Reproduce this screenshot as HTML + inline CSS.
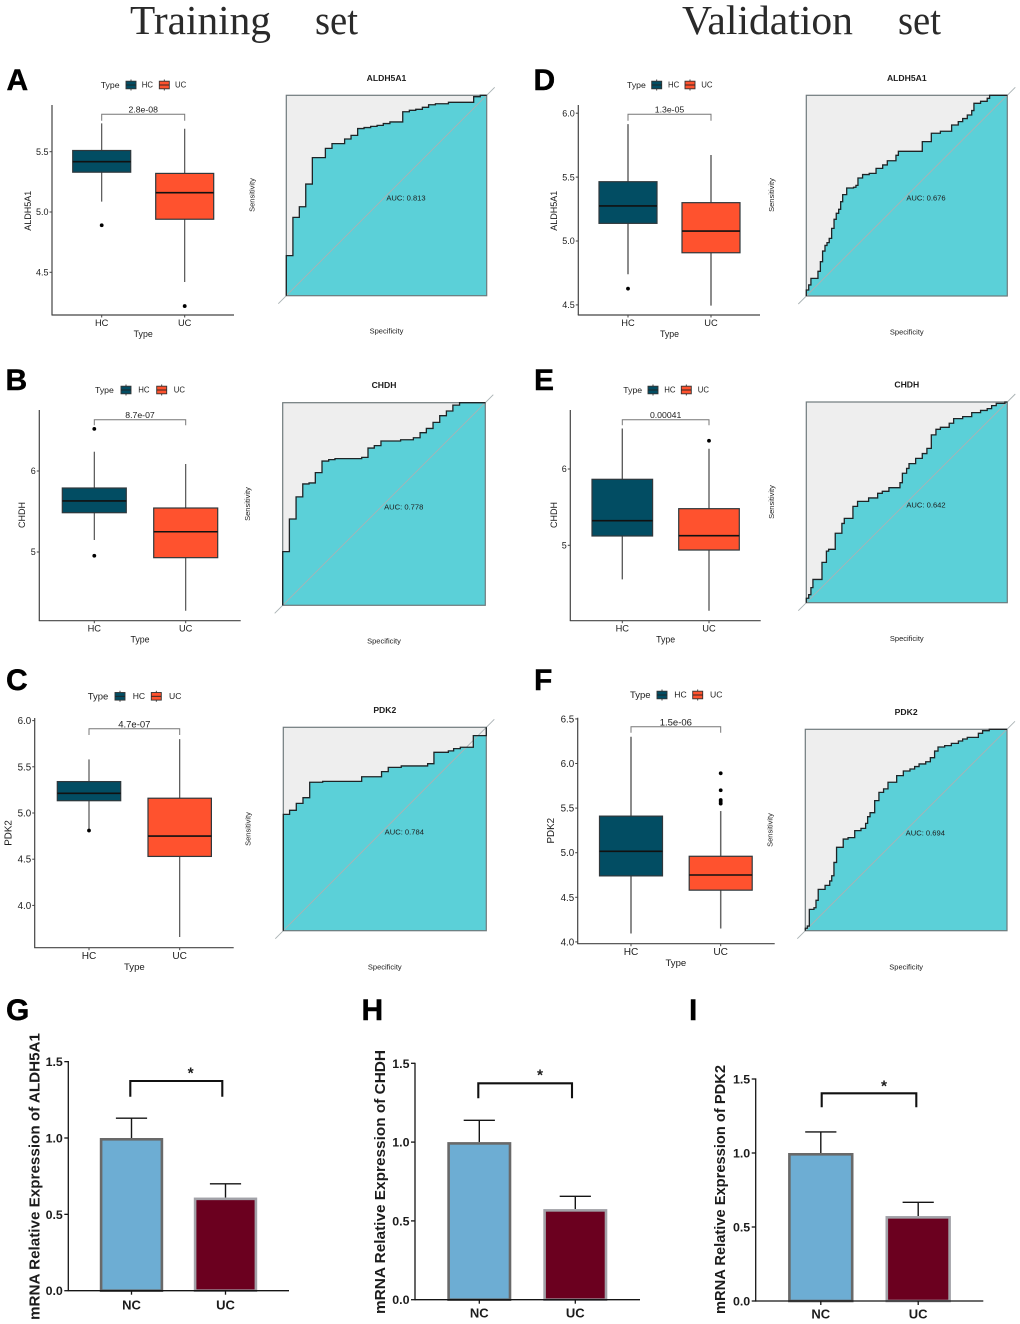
<!DOCTYPE html>
<html lang="en">
<head>
<meta charset="utf-8">
<title>Training and validation set expression figure</title>
<style>
html,body{margin:0;padding:0;background:#fff;width:1020px;height:1324px;overflow:hidden}
svg{display:block}
text{font-family:"Liberation Sans",Arial,sans-serif;fill:#1c1c1c}
.heading{font-family:"Liberation Serif","Times New Roman",serif;font-size:41.5px;fill:#2a2a2a}
.letter{font-size:30px;font-weight:bold;fill:#000;stroke:#000;stroke-width:.4px}
.soft{filter:blur(0.3px)}
</style>
</head>
<body>
<svg id="figure" xmlns="http://www.w3.org/2000/svg" width="1020" height="1324" viewBox="0 0 1020 1324">
<rect width="1020" height="1324" fill="#fff"/>
<g>
<text class="heading" x="130" y="34" textLength="141" lengthAdjust="spacingAndGlyphs">Training</text>
<text class="heading" x="315" y="34" textLength="43" lengthAdjust="spacingAndGlyphs">set</text>
<text class="heading" x="682" y="34" textLength="171" lengthAdjust="spacingAndGlyphs">Validation</text>
<text class="heading" x="898" y="34" textLength="43" lengthAdjust="spacingAndGlyphs">set</text>
</g>
<g>
<text class="letter" x="6.5" y="90">A</text>
<text class="letter" x="533.5" y="90">D</text>
<text class="letter" x="5.5" y="390">B</text>
<text class="letter" x="534" y="390">E</text>
<text class="letter" x="6" y="690">C</text>
<text class="letter" x="534" y="690">F</text>
<text class="letter" x="6" y="1020">G</text>
<text class="letter" x="361.5" y="1020">H</text>
<text class="letter" x="689" y="1020">I</text>
</g>
</svg>
<script>
// ---------- Shared categories ----------
const boxCategories = ['HC', 'UC'];
const barCategories = ['NC', 'UC'];

// ---------- Box plot data: [whisker low, q1, median, q3, whisker high] ----------
const boxA_HC = [5.086, 5.33, 5.417, 5.51, 5.735];
const boxA_UC = [4.42, 4.94, 5.16, 5.32, 5.69];
const outliersA_HC = [4.89];
const outliersA_UC = [4.22];
const ticksA = [4.5, 5.0, 5.5];
const pLabelA = '2.8e-08';

const boxB_HC = [5.148, 5.485, 5.63, 5.79, 6.238];
const boxB_UC = [4.275, 4.93, 5.25, 5.543, 6.086];
const outliersB_HC = [6.52, 4.954];
const outliersB_UC = [];
const ticksB = [5, 6];
const pLabelB = '8.7e-07';

const boxC_HC = [4.816, 5.133, 5.213, 5.34, 5.58];
const boxC_UC = [3.658, 4.53, 4.75, 5.16, 5.80];
const outliersC_HC = [4.81];
const outliersC_UC = [];
const ticksC = [4.0, 4.5, 5.0, 5.5, 6.0];
const pLabelC = '4.7e-07';

const boxD_HC = [4.74, 5.138, 5.274, 5.464, 5.915];
const boxD_UC = [4.494, 4.908, 5.078, 5.30, 5.673];
const outliersD_HC = [4.627];
const outliersD_UC = [];
const ticksD = [4.5, 5.0, 5.5, 6.0];
const pLabelD = '1.3e-05';

const boxE_HC = [4.554, 5.122, 5.322, 5.865, 6.53];
const boxE_UC = [4.143, 4.938, 5.126, 5.48, 6.266];
const outliersE_HC = [];
const outliersE_UC = [6.37];
const ticksE = [5, 6];
const pLabelE = '0.00041';

const boxF_HC = [4.094, 4.74, 5.015, 5.41, 6.30];
const boxF_UC = [4.15, 4.58, 4.75, 4.96, 5.467];
const outliersF_HC = [];
const outliersF_UC = [5.89, 5.70, 5.59, 5.57, 5.55];
const ticksF = [4.0, 4.5, 5.0, 5.5, 6.0, 6.5];
const pLabelF = '1.5e-06';

// ---------- ROC data: step curves (1 - specificity, sensitivity) ----------
const rocFprA = [0,.033,.065,.097,.130,.195,.228,.291,.323,.356,.388,.421,.453,.484,.517,.581,.614,.646,.679,.710,.744,.809,.935,.968];
const rocTprA = [.200,.391,.444,.557,.689,.735,.759,.782,.800,.834,.839,.845,.850,.859,.867,.918,.925,.930,.940,.953,.958,.965,.993,1];
const rocAucA = 'AUC: 0.813';

const rocFprB = [0,.033,.066,.099,.130,.161,.194,.227,.258,.390,.421,.452,.485,.582,.645,.678,.709,.742,.775,.808,.840,.873];
const rocTprB = [.265,.426,.535,.599,.604,.655,.712,.719,.724,.730,.776,.788,.811,.817,.827,.852,.873,.903,.936,.959,.988,1];
const rocAucB = 'AUC: 0.778';

const rocFprC = [0,.031,.064,.097,.130,.194,.386,.484,.517,.581,.711,.742,.813,.839,.872,.936,1];
const rocTprC = [.572,.592,.626,.654,.730,.734,.757,.782,.803,.810,.821,.877,.884,.895,.902,.959,1];
const rocAucC = 'AUC: 0.784';

const rocFprD = [0,.012,.023,.058,.070,.081,.093,.103,.114,.126,.138,.149,.161,.171,.181,.201,.235,.247,.257,.280,.313,.347,.380,.403,.446,.458,.577,.622,.667,.723,.756,.778,.801,.823,.834,.867,.900,.912];
const rocTprD = [.030,.055,.088,.123,.171,.224,.252,.266,.287,.337,.382,.412,.432,.470,.505,.538,.542,.551,.588,.605,.611,.636,.653,.674,.701,.721,.769,.811,.821,.852,.869,.884,.902,.924,.960,.970,.985,1];
const rocAucD = 'AUC: 0.676';

const rocFprE = [0,.012,.023,.033,.078,.100,.111,.144,.177,.189,.232,.255,.310,.355,.378,.411,.466,.478,.499,.511,.544,.577,.600,.622,.645,.667,.711,.733,.778,.823,.867,.900,.922,.945,.988];
const rocTprE = [.022,.040,.075,.116,.201,.257,.266,.346,.395,.420,.480,.505,.522,.545,.555,.573,.598,.645,.669,.693,.719,.743,.769,.836,.864,.874,.894,.917,.927,.947,.958,.967,.982,.993,1];
const rocAucE = 'AUC: 0.642';

const rocFprF = [0,.010,.020,.043,.053,.064,.098,.121,.131,.142,.155,.188,.212,.245,.276,.299,.309,.321,.344,.365,.388,.410,.453,.486,.519,.542,.564,.597,.620,.641,.658,.691,.724,.759,.780,.803,.858,.879,.912];
const rocTprF = [.012,.023,.106,.114,.151,.205,.225,.247,.273,.339,.414,.455,.462,.497,.508,.533,.566,.586,.646,.687,.704,.737,.770,.793,.803,.815,.828,.839,.859,.892,.912,.919,.930,.942,.952,.960,.980,.993,1];
const rocAucF = 'AUC: 0.694';

// ---------- Bar chart data ----------
const barTicks = [0.0, 0.5, 1.0, 1.5];
const barMeansG = [1.0, 0.61];
const barErrorsG = [0.13, 0.09];
const barMeansH = [1.0, 0.575];
const barErrorsH = [0.138, 0.081];
const barMeansI = [1.0, 0.574];
const barErrorsI = [0.142, 0.093];

// ---------- Helpers ----------
const SVGNS = 'http://www.w3.org/2000/svg';
const svg = document.getElementById('figure');
function add(parent, tag, attrs, content) {
  const node = document.createElementNS(SVGNS, tag);
  for (const k in attrs) node.setAttribute(k, attrs[k]);
  if (content !== undefined) node.textContent = content;
  parent.appendChild(node);
  return node;
}
function label(parent, x, y, str, size, extra) {
  // y is the visual centre of the text
  return add(parent, 'text', Object.assign({
    x: x, y: y + size * 0.36, 'font-size': size, 'text-anchor': 'middle'
  }, extra || {}), str);
}
function vLabel(parent, x, y, str, size, extra) {
  return add(parent, 'text', Object.assign({
    x: 0, y: 0, 'font-size': size, 'text-anchor': 'middle',
    transform: 'translate(' + (x + size * 0.36) + ' ' + y + ') rotate(-90)'
  }, extra || {}), str);
}

// ---------- Box plot ----------
function drawBoxPanel(c) {
  const panel = add(svg, 'g', { class: 'soft' });
  
  
  const yAt = v => c.y0 - (v - c.v0) * c.k;
  const colors = ['#024d63', '#ff522e'];
  const xs = [c.xHC, c.xUC];
  const fs = c.fs;

  // legend
  const legend = add(panel, 'g', {});
  
  
  const legendTitle = add(legend, 'text', { x: c.legX[0], y: c.legY + 3, 'font-size': fs - 0.3 }, 'Type');
  
  
  boxCategories.forEach((name, i) => {
    const kx = c.legX[1 + i * 2];
    const entry = add(legend, 'g', {});
    
    
    add(entry, 'line', { x1: kx + 5, x2: kx + 5, y1: c.legY - 5.5, y2: c.legY + 5.5, stroke: '#333', 'stroke-width': 0.9 });
    add(entry, 'rect', { x: kx, y: c.legY - 3.8, width: 10, height: 7.6, fill: colors[i], stroke: '#333', 'stroke-width': 0.9 });
    add(entry, 'line', { x1: kx, x2: kx + 10, y1: c.legY, y2: c.legY, stroke: '#222', 'stroke-width': 0.9 });
    add(entry, 'text', { x: c.legX[2 + i * 2], y: c.legY + 2.7, 'font-size': fs - 1.2, fill: '#333' }, name);
  });

  // y axis and ticks
  const yAxis = add(panel, 'line', { x1: c.x0, x2: c.x0, y1: c.top, y2: c.bottom, stroke: '#444', 'stroke-width': 1.2 });
  
  
  const xAxis = add(panel, 'line', { x1: c.x0 - 0.5, x2: c.right, y1: c.bottom, y2: c.bottom, stroke: '#444', 'stroke-width': 1.2 });
  
  
  c.ticks.forEach(t => {
    const y = yAt(t);
    add(panel, 'line', { x1: c.x0 - 2.5, x2: c.x0, y1: y, y2: y, stroke: '#444', 'stroke-width': 1 });
    const tl = label(panel, c.x0 - 3.5, y, c.tickFmt ? t.toFixed(c.tickFmt) : String(t), fs, { 'text-anchor': 'end' });
    
    
  });
  const yTitle = vLabel(panel, c.yTitleX, c.yTitleY, c.gene, fs);
  
  
  const mid = (c.xHC + c.xUC) / 2;
  const xTitle = label(panel, mid, c.bottom + 18.6, 'Type', fs - 0.2);
  
  

  // boxes
  boxCategories.forEach((name, i) => {
    const x = xs[i], s = c.series[i];
    const box = add(panel, 'g', {});
    
    
    add(box, 'line', { x1: x, x2: x, y1: yAt(s[4]), y2: yAt(s[0]), stroke: c.wColor, 'stroke-width': c.wWidth });
    add(box, 'rect', { x: x - c.half, y: yAt(s[3]), width: c.half * 2, height: yAt(s[1]) - yAt(s[3]), fill: colors[i], stroke: '#30383c', 'stroke-width': 1.2 });
    add(box, 'line', { x1: x - c.half, x2: x + c.half, y1: yAt(s[2]), y2: yAt(s[2]), stroke: '#111', 'stroke-width': 1.6 });
    c.outliers[i].forEach(v => {
      const dot = add(box, 'circle', { cx: x, cy: yAt(v), r: 1.9, fill: '#000' });
      
      
    });
    add(panel, 'line', { x1: x, x2: x, y1: c.bottom, y2: c.bottom + 2.5, stroke: '#444', 'stroke-width': 1 });
    const cat = label(panel, x, c.bottom + 7.6, name, fs + 0.3);
    
    
  });

  // significance bracket
  const br = add(panel, 'polyline', {
    points: [c.xHC, c.brTip, c.xHC, c.brY, c.xUC, c.brY, c.xUC, c.brTip].join(' '),
    fill: 'none', stroke: '#777', 'stroke-width': 1
  });
  
  
  const pv = label(panel, mid, c.brY - 4.7, c.p, fs - 0.3);
  
  
}

// ---------- ROC ----------
function drawRoc(c) {
  const panel = add(svg, 'g', { class: 'soft' });
  
  
  const w = c.x1 - c.x0, h = c.y1 - c.y0;
  const xAt = v => c.x0 + v * w;
  const yAt = v => c.y1 - v * h;
  let pts = [[xAt(0), yAt(0)]];
  c.fpr.forEach((f, i) => {
    pts.push([xAt(f), i === 0 ? yAt(0) : yAt(c.tpr[i - 1])]);
    pts.push([xAt(f), yAt(c.tpr[i])]);
  });
  pts.push([xAt(1), yAt(1)]);
  const str = pts.map(p => p[0].toFixed(2) + ',' + p[1].toFixed(2)).join(' ');
  const upper = add(panel, 'rect', { x: c.x0, y: c.y0, width: w, height: h, fill: '#eeeeee' });
  
  
  const area = add(panel, 'polygon', { points: str + ' ' + xAt(1) + ',' + yAt(0), fill: '#5bd0d8' });
  
  
  const diag = add(panel, 'line', { x1: c.x0 - 8, y1: c.y1 + 8, x2: c.x1 + 8, y2: c.y0 - 8, stroke: '#aab2b4', 'stroke-width': 0.9 });
  
  
  const frame = add(panel, 'rect', { x: c.x0, y: c.y0, width: w, height: h, fill: 'none', stroke: '#6f7a7c', 'stroke-width': 1.2 });
  
  
  const curve = add(panel, 'polyline', { points: str, fill: 'none', stroke: '#1e2426', 'stroke-width': 1.3 });
  
  
  const cx = (c.x0 + c.x1) / 2;
  const title = label(panel, cx, c.titleY, c.gene, 8.6, { 'font-weight': 'bold' });
  
  
  const auc = label(panel, c.aucX, c.aucY, c.auc, 7.6);
  
  
  const sens = vLabel(panel, c.sensX, c.sensY, 'Sensitivity', 7.5, { fill: '#333' });
  
  
  const spec = label(panel, cx, c.specY, 'Specificity', 7.5, { fill: '#333' });
  
  
}

// ---------- Bar chart ----------
function drawBars(c) {
  const panel = add(svg, 'g', {});
  
  
  const yAt = v => c.zeroY - v * c.k;
  const fills = ['#6dadd3', '#6b001f'];
  const strokes = ['#696969', '#a2a2a8'];
  const topY = yAt(barTicks[barTicks.length - 1]);

  barCategories.forEach((name, i) => {
    const cx = c.centers[i], m = c.means[i], e = c.errors[i];
    const errLine = add(panel, 'path', {
      d: 'M' + cx + ' ' + yAt(m) + 'V' + yAt(m + e) + 'M' + (cx - 15.6) + ' ' + yAt(m + e) + 'H' + (cx + 15.6),
      fill: 'none', stroke: '#151515', 'stroke-width': 1.4
    });
    
    
    const bar = add(panel, 'rect', {
      x: cx - c.half + 1.3, y: yAt(m) + 1.3, width: c.half * 2 - 2.6, height: c.zeroY - yAt(m) - 1.3,
      fill: fills[i], stroke: strokes[i], 'stroke-width': 2.6
    });
    
    
    add(panel, 'line', { x1: cx, x2: cx, y1: c.zeroY, y2: c.zeroY + 4, stroke: '#151515', 'stroke-width': 1.3 });
    const cat = label(panel, cx, c.labelY, name, 13, { 'font-weight': 'bold' });
    
    
  });

  const yAxis = add(panel, 'line', { x1: c.x0, x2: c.x0, y1: topY - 0.6, y2: c.zeroY + 0.6, stroke: '#151515', 'stroke-width': 1.3 });
  
  
  const xAxis = add(panel, 'line', { x1: c.x0, x2: c.right, y1: c.zeroY, y2: c.zeroY, stroke: '#151515', 'stroke-width': 1.3 });
  
  
  barTicks.forEach(t => {
    const y = yAt(t);
    add(panel, 'line', { x1: c.x0 - 4, x2: c.x0, y1: y, y2: y, stroke: '#151515', 'stroke-width': 1.3 });
    const tl = label(panel, c.x0 - 5.5, y, t.toFixed(1), 12.4, { 'text-anchor': 'end', 'font-weight': 'bold' });
    
    
  });
  const yTitle = vLabel(panel, c.titleX, c.titleY, c.title, 15.2, { 'font-weight': 'bold', textLength: c.titleLen, lengthAdjust: 'spacingAndGlyphs' });
  
  

  const br = add(panel, 'polyline', {
    points: [c.brX[0], c.brTip, c.brX[0], c.brY, c.brX[1], c.brY, c.brX[1], c.brTip].join(' '),
    fill: 'none', stroke: '#111', 'stroke-width': 2.1
  });
  
  
  const star = label(panel, c.starX, c.starY + 3, '*', 15.5, { 'font-weight': 'bold' });
  
  
}

// ---------- Panel layouts ----------
drawBoxPanel({ id: 'a', gene: 'ALDH5A1', p: pLabelA, ticks: ticksA, tickFmt: 1, series: [boxA_HC, boxA_UC], outliers: [outliersA_HC, outliersA_UC],
  x0: 52, top: 105, bottom: 315, right: 234, v0: 5, y0: 212, k: 120.6, xHC: 101.7, xUC: 184.7, half: 29, fs: 9, wColor: '#444', wWidth: 1.1,
  brY: 114.3, brTip: 120.7, yTitleX: 28, yTitleY: 210.7, legY: 85, legX: [100.7, 126, 141.7, 159.3, 175] });
drawBoxPanel({ id: 'd', gene: 'ALDH5A1', p: pLabelD, ticks: ticksD, tickFmt: 1, series: [boxD_HC, boxD_UC], outliers: [outliersD_HC, outliersD_UC],
  x0: 578.3, top: 105, bottom: 315, right: 760, v0: 5, y0: 241, k: 127.8, xHC: 628, xUC: 711, half: 29, fs: 9, wColor: '#666', wWidth: 1.5,
  brY: 114.3, brTip: 120.7, yTitleX: 554, yTitleY: 210.7, legY: 85, legX: [627, 651.7, 668, 685, 701.3] });
drawBoxPanel({ id: 'b', gene: 'CHDH', p: pLabelB, ticks: ticksB, tickFmt: 0, series: [boxB_HC, boxB_UC], outliers: [outliersB_HC, outliersB_UC],
  x0: 39.3, top: 410, bottom: 620.7, right: 240.7, v0: 5, y0: 552, k: 81, xHC: 94.3, xUC: 185.7, half: 32, fs: 9, wColor: '#444', wWidth: 1.1,
  brY: 419.7, brTip: 425.3, yTitleX: 21.7, yTitleY: 515, legY: 390, legX: [95, 121, 138.3, 156.7, 173.7] });
drawBoxPanel({ id: 'e', gene: 'CHDH', p: pLabelE, ticks: ticksE, tickFmt: 0, series: [boxE_HC, boxE_UC], outliers: [outliersE_HC, outliersE_UC],
  x0: 570.3, top: 410, bottom: 620.7, right: 760.7, v0: 5, y0: 545.3, k: 76.3, xHC: 622.3, xUC: 709, half: 30.3, fs: 9, wColor: '#555', wWidth: 1.3,
  brY: 419.7, brTip: 425.3, yTitleX: 553.7, yTitleY: 515, legY: 390, legX: [623.3, 648, 664.3, 681.3, 697.7] });
drawBoxPanel({ id: 'c', gene: 'PDK2', p: pLabelC, ticks: ticksC, tickFmt: 1, series: [boxC_HC, boxC_UC], outliers: [outliersC_HC, outliersC_UC],
  x0: 34.7, top: 718, bottom: 947.7, right: 233.7, v0: 5, y0: 813, k: 92.4, xHC: 89, xUC: 179.7, half: 31.7, fs: 9.8, wColor: '#444', wWidth: 1.1,
  brY: 728.7, brTip: 735, yTitleX: 8, yTitleY: 833, legY: 696.3, legX: [87.7, 115, 132.7, 151.3, 169] });
drawBoxPanel({ id: 'f', gene: 'PDK2', p: pLabelF, ticks: ticksF, tickFmt: 1, series: [boxF_HC, boxF_UC], outliers: [outliersF_HC, outliersF_UC],
  x0: 577.7, top: 717.7, bottom: 943.7, right: 774.7, v0: 5, y0: 852.7, k: 89.2, xHC: 631, xUC: 720.7, half: 31.5, fs: 9.8, wColor: '#666', wWidth: 1.5,
  brY: 726.7, brTip: 732.7, yTitleX: 550.7, yTitleY: 830.7, legY: 695, legX: [630, 657, 674.3, 692.7, 710] });

drawRoc({ id: 'a', gene: 'ALDH5A1', auc: rocAucA, fpr: rocFprA, tpr: rocTprA, x0: 286.3, x1: 486.7, y0: 95.3, y1: 295.7, titleY: 78, aucX: 406, aucY: 198, sensX: 251.7, sensY: 195, specY: 331 });
drawRoc({ id: 'd', gene: 'ALDH5A1', auc: rocAucD, fpr: rocFprD, tpr: rocTprD, x0: 806.3, x1: 1007.3, y0: 95.3, y1: 296, titleY: 78, aucX: 926, aucY: 198, sensX: 771.3, sensY: 195, specY: 331.7 });
drawRoc({ id: 'b', gene: 'CHDH', auc: rocAucB, fpr: rocFprB, tpr: rocTprB, x0: 282.7, x1: 485.3, y0: 402.7, y1: 605.3, titleY: 385, aucX: 403.7, aucY: 507, sensX: 247.3, sensY: 504, specY: 641 });
drawRoc({ id: 'e', gene: 'CHDH', auc: rocAucE, fpr: rocFprE, tpr: rocTprE, x0: 806.3, x1: 1007.3, y0: 402, y1: 602.7, titleY: 384.3, aucX: 926, aucY: 505, sensX: 771.3, sensY: 502, specY: 638.3 });
drawRoc({ id: 'c', gene: 'PDK2', auc: rocAucC, fpr: rocFprC, tpr: rocTprC, x0: 283.3, x1: 486.3, y0: 727.3, y1: 930.7, titleY: 709.7, aucX: 404.3, aucY: 832, sensX: 247.7, sensY: 829, specY: 966.7 });
drawRoc({ id: 'f', gene: 'PDK2', auc: rocAucF, fpr: rocFprF, tpr: rocTprF, x0: 805.3, x1: 1007, y0: 729.3, y1: 930.7, titleY: 711.7, aucX: 925.3, aucY: 833, sensX: 769.7, sensY: 830, specY: 966.7 });

drawBars({ id: 'g', title: 'mRNA Relative Expression of ALDH5A1', means: barMeansG, errors: barErrorsG,
  x0: 68.3, right: 289, zeroY: 1290.7, k: 152.7, centers: [131.5, 225.5], half: 31.7, labelY: 1304.7,
  titleX: 34, titleY: 1176.5, titleLen: 287, brX: [130.3, 222.3], brY: 1081, brTip: 1096.7, starX: 190.7, starY: 1070 });
drawBars({ id: 'h', title: 'mRNA Relative Expression of CHDH', means: barMeansH, errors: barErrorsH,
  x0: 415, right: 640, zeroY: 1299.7, k: 157.6, centers: [479.3, 575.3], half: 32, labelY: 1313,
  titleX: 379.3, titleY: 1182, titleLen: 264, brX: [478.3, 572], brY: 1083.3, brTip: 1098.3, starX: 540, starY: 1071.7 });
drawBars({ id: 'i', title: 'mRNA Relative Expression of PDK2', means: barMeansI, errors: barErrorsI,
  x0: 755.7, right: 983.3, zeroY: 1301, k: 148, centers: [820.8, 918.2], half: 32.7, labelY: 1314,
  titleX: 719.3, titleY: 1189.5, titleLen: 249, brX: [821.7, 916.3], brY: 1093.3, brTip: 1107.3, starX: 884, starY: 1082.7 });
</script>
</body>
</html>
